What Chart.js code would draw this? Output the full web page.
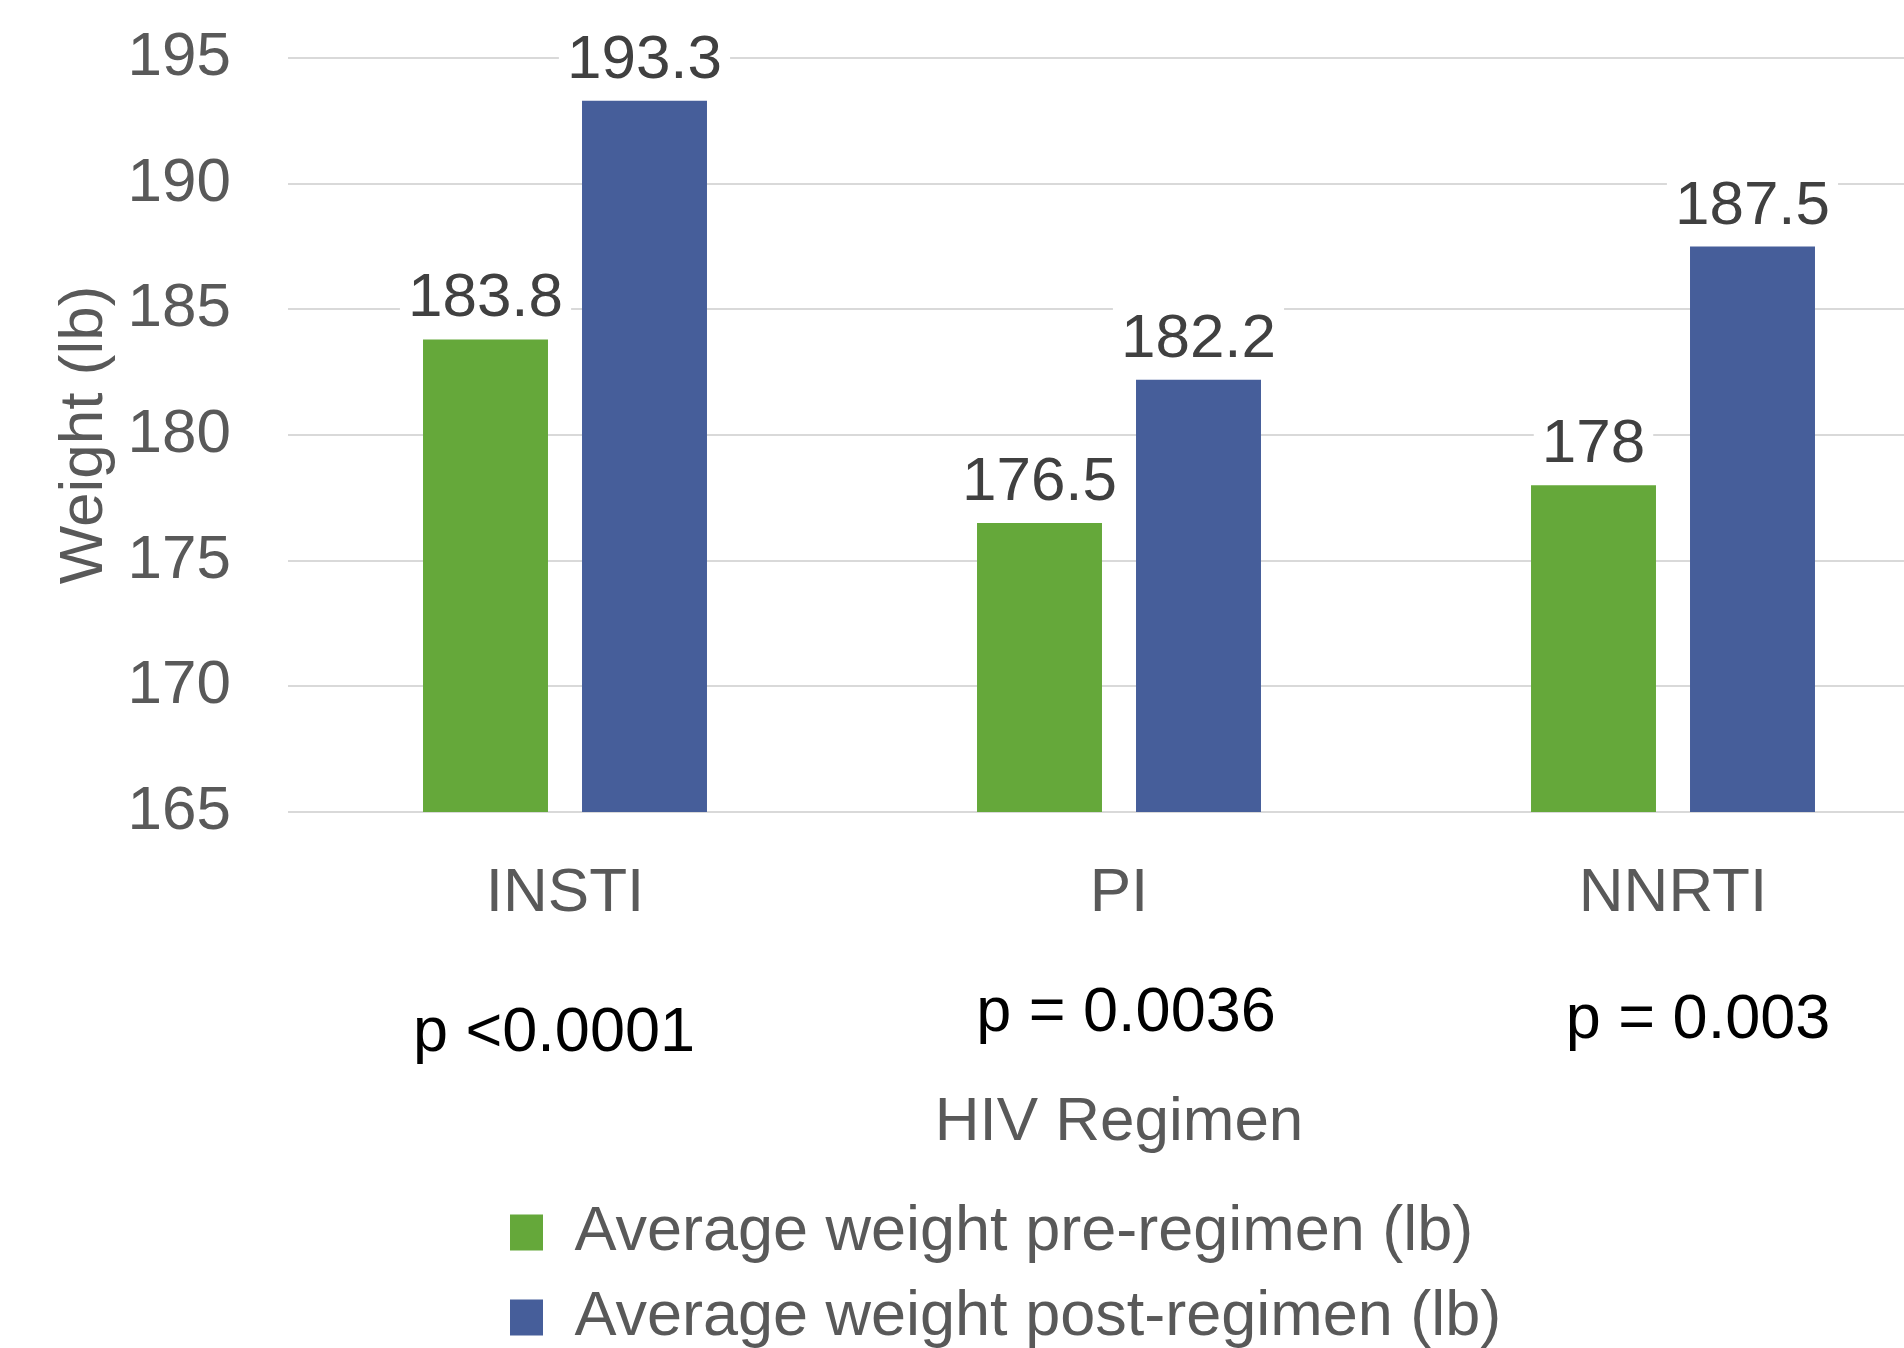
<!DOCTYPE html>
<html lang="en">
<head>
<meta charset="UTF-8">
<title>Weight by HIV Regimen</title>
<script src="https://cdn.jsdelivr.net/npm/chart.js"></script>
<style>
  html, body { margin: 0; padding: 0; background: #fff; overflow: hidden; }
  canvas { position: absolute; left: 0; top: -30px; }
</style>
</head>
<body>
<canvas id="grafico" width="1960" height="1389"></canvas>

<script>
// dados
const regimens = ['INSTI', 'PI', 'NNRTI'];
const pValues = ['p <0.0001', 'p = 0.0036', 'p = 0.003'];
const preWeight = [183.8, 176.5, 178];
const postWeight = [193.3, 182.2, 187.5];
const yTicks = [165, 170, 175, 180, 185, 190, 195];
const seriesNames = ['Average weight pre-regimen (lb)', 'Average weight post-regimen (lb)'];

const FONT = '"Liberation Sans", Arial, sans-serif';
const GRAY = '#595959';

// rótulos em cima das barras + valores de p debaixo das categorias
const etiquetas = {
    id: 'etiquetas',
    afterDatasetsDraw(chart) {
        const ctx = chart.ctx;
        ctx.save();
        ctx.font = '62px ' + FONT;
        ctx.textAlign = 'center';
        ctx.textBaseline = 'alphabetic';
        chart.data.datasets.forEach((ds, i) => {
            chart.getDatasetMeta(i).data.forEach((bar, j) => {
                const txt = String(ds.data[j]);
                const w = ctx.measureText(txt).width;
                const base = bar.y - 23;
                ctx.fillStyle = '#ffffff';
                ctx.fillRect(bar.x - w / 2 - 8, base - 52, w + 16, 60);
                ctx.fillStyle = '#404040';
                ctx.fillText(txt, bar.x, base);
            });
        });

        // p-values (caixas de texto pretas)
        const dx = [-11, 7, 25];
        const dy = [239, 219, 226];
        ctx.font = '63px ' + FONT;
        ctx.fillStyle = '#000000';
        const xs = chart.scales.x;
        pValues.forEach((p, i) => {
            ctx.fillText(p, xs.getPixelForValue(i) + dx[i], chart.chartArea.bottom + dy[i]);
        });
        ctx.restore();
    },
    afterLayout(chart) {
        // legenda alinhada à esquerda, começando perto de x=510
        chart.legend.left += 488;
        chart.legend.right += 488;
    }
};

const dados = {
    labels: regimens,
    datasets: [{
        label: seriesNames[0],
        data: preWeight,
        backgroundColor: '#65A83A',
        borderWidth: 0
    },
    {
        label: seriesNames[1],
        data: postWeight,
        backgroundColor: '#465E9A',
        borderWidth: 0
    }]
};

const config = {
    type: 'bar',
    data: dados,
    options: {
        responsive: false,
        animation: false,
        categoryPercentage: 0.574,
        barPercentage: 0.786,
        layout: {
            padding: { top: 26, right: 10, left: 0, bottom: 0 }
        },
        scales: {
            x: {
                grid: { display: false },
                border: { display: false },
                ticks: {
                    color: GRAY,
                    font: { family: FONT, size: 62, lineHeight: 1 },
                    padding: 43
                },
                title: {
                    display: true,
                    text: 'HIV Regimen',
                    color: GRAY,
                    font: { family: FONT, size: 62, lineHeight: 1 },
                    padding: { top: 124, bottom: 25 }
                }
            },
            y: {
                min: 165,
                max: 195,
                afterBuildTicks: s => { s.ticks = yTicks.map(v => ({ value: v })); },
                afterFit: s => { s.width = 288; },
                grid: { color: '#D9D9D9', lineWidth: 2, drawTicks: false },
                border: { display: false },
                ticks: {
                    color: GRAY,
                    font: { family: FONT, size: 62, lineHeight: 1 },
                    padding: 57
                },
                title: {
                    display: true,
                    text: 'Weight (lb)',
                    color: GRAY,
                    font: { family: FONT, size: 62, lineHeight: 1 },
                    padding: { top: 54, bottom: 10 }
                }
            }
        },
        plugins: {
            legend: {
                position: 'bottom',
                align: 'start',
                labels: {
                    color: GRAY,
                    font: { family: FONT, size: 63, lineHeight: 1 },
                    boxWidth: 33,
                    boxHeight: 36,
                    padding: 22
                }
            },
            tooltip: { enabled: false }
        }
    },
    plugins: [etiquetas]
};

const grafico = new Chart(document.getElementById('grafico'), config);
</script>
</body>
</html>
